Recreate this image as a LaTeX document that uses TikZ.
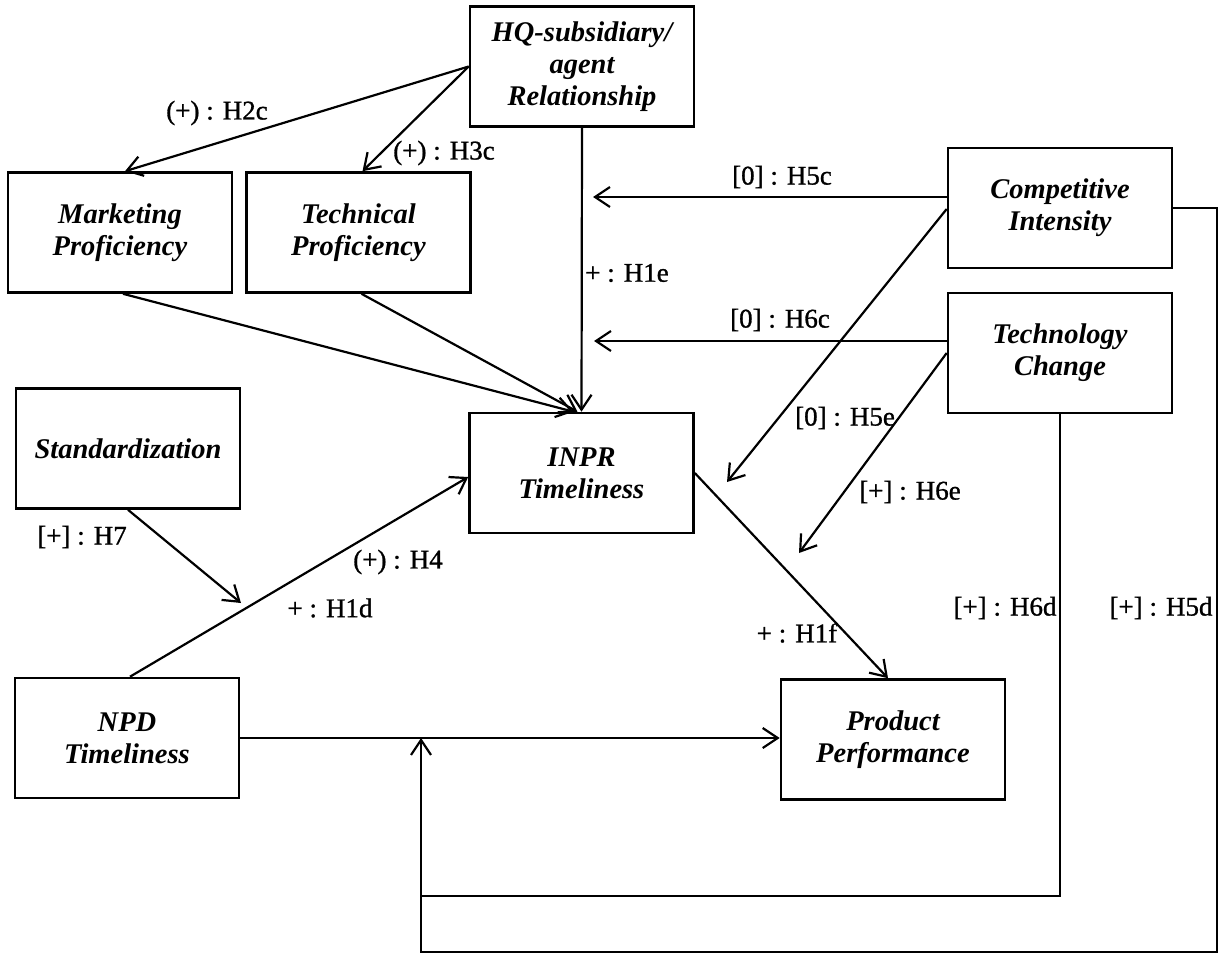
\documentclass[tikz,border=0pt]{standalone}
\usepackage{fontspec}
\setmainfont{Liberation Serif}
\newfontfamily\labelfont{Liberation Serif}[FakeBold=1]
\usetikzlibrary{arrows.meta,calc}
\begin{document}
\begin{tikzpicture}[x=1pt,y=-1pt,
  box/.style={draw, line width=2.6pt, minimum width=224pt, minimum height=120pt,
    inner sep=0pt, align=center, font=\fontsize{28.5}{32}\selectfont\bfseries\itshape},
  lab/.style={inner sep=0pt, font=\labelfont\fontsize{27}{32}\selectfont},
  link/.style={line width=2.2pt, -{Straight Barb[length=15pt,width=20pt,line width=2.2pt]}},
  wire/.style={line width=2.2pt},
]
\useasboundingbox (0,0) rectangle (1223,955);

% constructs
\node[box] (hq)    at (582,66.5)   {HQ-subsidiary/\\agent\\Relationship};
\node[box] (mkt)   at (120,232.5)  {Marketing\\Proficiency};
\node[box] (tech)  at (358.5,232.5){Technical\\Proficiency};
\node[box] (comp)  at (1060,208)   {Competitive\\Intensity};
\node[box] (techc) at (1060,353)   {Technology\\Change};
\node[box] (std)   at (128,448.5)  {Standardization};
\node[box] (inpr)  at (581.5,473)  {INPR\\Timeliness};
\node[box] (npd)   at (127,738)    {NPD\\Timeliness};
\node[box] (pp)    at (893,739.5)  {Product\\Performance};

% free ends of moderating paths
\coordinate (t5c) at (593,197);
\coordinate (t6c) at (594,341);
\coordinate (t5e) at (727,482);
\coordinate (t6e) at (799,553);
\coordinate (t7)  at (241,603);
\coordinate (j6d) at (421,896);
\coordinate (j5d) at (1217,952);
\coordinate (jt)  at (421,738);

% direct effects
\draw[link] (hq.west) -- ([xshift=5pt]mkt.north);
\draw[link] (hq.west) -- ([xshift=4pt]tech.north);
\draw[link] (hq.south) -- (inpr.north);
\draw[link] ([xshift=3pt]mkt.south) -- ([xshift=-8pt]inpr.north);
\draw[link] ([xshift=3pt]tech.south) -- ([xshift=-4pt]inpr.north);
\draw[link] ([xshift=3pt]npd.north) -- ([yshift=-4pt]inpr.west);
\draw[link] (inpr.east) -- ([xshift=-5pt]pp.north);
\draw[link] (npd.east) -- (npd.east -| pp.west);

% moderating effects
\draw[link] (comp.west |- t5c) -- (t5c);
\draw[link] (techc.west |- t6c) -- (t6c);
\draw[link] ([yshift=-1pt]comp.west) -- (t5e);
\draw[link] (techc.west) -- (t6e);
\draw[link] (std.south) -- (t7);
\draw[wire] (techc.south) |- (j6d);
\draw[link] (comp.east) -| (j5d) -| (jt);

% hypothesis labels
\node[lab] (lH2c) at (217,113) {(+) : H2c};
\node[lab] (lH3c) at (444,153) {(+) : H3c};
\node[lab] (lH1e) at (627,273) {+ : H1e};
\node[lab] (lH5c) at (782,177) {[0] : H5c};
\node[lab] (lH6c) at (780,320) {[0] : H6c};
\node[lab] (lH5e) at (845,418) {[0] : H5e};
\node[lab] (lH6e) at (910,492) {[+] : H6e};
\node[lab] (lH7)  at (82,537)  {[+] : H7};
\node[lab] (lH4)  at (398,562) {(+) : H4};
\node[lab] (lH1d) at (330,608) {+ : H1d};
\node[lab] (lH1f) at (797,633) {+ : H1f};
\node[lab] (lH6d) at (1005,608) {[+] : H6d};
\node[lab] (lH5d) at (1161,608) {[+] : H5d};
\end{tikzpicture}
\end{document}
